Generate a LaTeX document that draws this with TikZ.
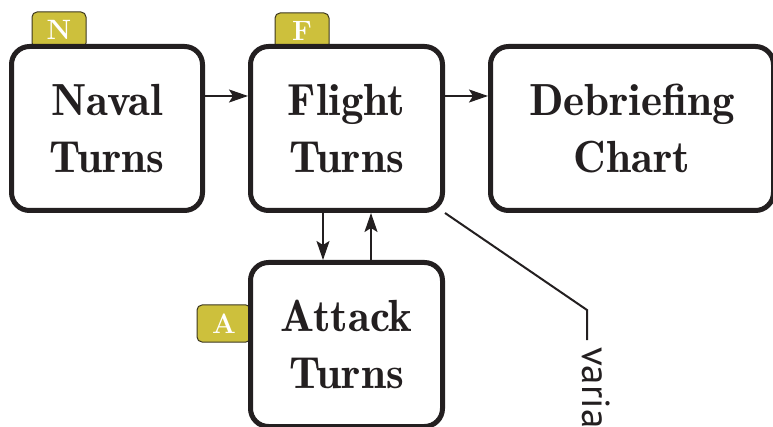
\documentclass[tikz,border=0pt]{standalone}
\usepackage{fontspec}
\newfontfamily\labelfont{PT Sans}
\usetikzlibrary{arrows.meta,backgrounds}
\definecolor{ink}{RGB}{35,31,32}
\definecolor{badgefill}{RGB}{205,192,60}
\definecolor{badgeline}{RGB}{60,55,30}
\tikzset{
  stagebox/.style={draw=ink, line width=5pt, fill=white, rounded corners=18pt,
    align=center, text=ink, inner sep=0pt,
    font=\fontsize{45}{57}\fontseries{b}\selectfont},
  badge/.style={draw=badgeline, line width=1pt, fill=badgefill, rounded corners=5pt,
    minimum width=54pt, minimum height=36pt, inner sep=0pt, text=white,
    font=\fontsize{28}{28}\bfseries\selectfont},
  flow/.style={draw=ink, line width=2pt, -{Stealth[length=19pt,width=13pt,inset=4pt]}},
  lead/.style={draw=ink, line width=2pt},
}
\begin{document}
\begin{tikzpicture}[x=1pt, y=-1pt]
  \useasboundingbox (0,0) rectangle (773,427);
  \clip (0,0) rectangle (773,427);

  % tabs sit behind the boxes
  \node[badge] (tabN) at (59,30) {N};
  \node[badge] (tabF) at (302,31) {F};
  \node[badge, minimum height=37pt] (tabA) at (224,323.5) {A};

  % stages
  \node[stagebox, minimum width=191pt, minimum height=164pt] (naval) at (107,128.5) {Naval\\Turns};
  \node[stagebox, minimum width=192pt, minimum height=164pt] (flight) at (346.5,128.5) {Flight\\Turns};
  \node[stagebox, minimum width=283pt, minimum height=164pt] (debrief) at (632,128.5) {Debriefing\\Chart};
  \node[stagebox, minimum width=192pt, minimum height=164pt] (attack) at (346.5,344.5) {Attack\\Turns};

  % flow between stages
  \draw[flow] ([yshift=32.5pt]naval.east) -- ([yshift=32.5pt]flight.west);
  \draw[flow] ([yshift=32.5pt]flight.east) -- ([yshift=32.5pt]debrief.west);
  \draw[flow] ([xshift=-23.5pt]flight.south) -- ([xshift=-23.5pt]attack.north);
  \draw[flow] ([xshift=24.5pt]attack.north) -- ([xshift=24.5pt]flight.south);

  % side label with its leader from the lower right corner of the flight box
  \node[rotate=-90, anchor=base west, inner sep=0pt, text=ink,
        font=\labelfont\fontsize{39}{39}\selectfont] (variant) at (582,347) {variant};
  \coordinate (bend) at (587,310);
  \coordinate (tick) at (587,340);
  \begin{scope}[on background layer]
    \draw[lead] (flight.south east) -- (bend) -- (tick);
  \end{scope}
\end{tikzpicture}
\end{document}
